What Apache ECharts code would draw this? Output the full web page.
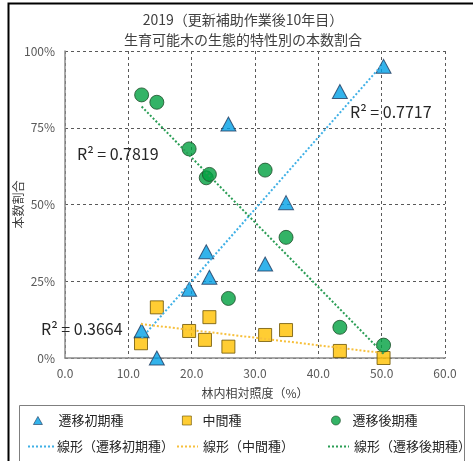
<!DOCTYPE html>
<html>
<head>
<meta charset="utf-8">
<script src="https://cdn.jsdelivr.net/npm/echarts@6/dist/echarts.min.js"></script>
<style>
  html, body { margin: 0; padding: 0; background: #fff; }
  #chart { width: 473px; height: 461px; }
</style>
</head>
<body>
<div id="chart"></div>
<script>
// values (x = 林内相対照度 %, y = 本数割合 %)
const earlyX = [12.1, 14.5, 19.6, 22.3, 22.8, 25.8, 31.6, 34.9, 43.4, 50.3]
const earlyY = [8.9, 0.0, 22.4, 34.6, 26.3, 76.2, 30.6, 50.6, 86.8, 95.0]
const midX = [12.0, 14.5, 19.6, 22.1, 22.8, 25.8, 31.6, 34.9, 43.4, 50.3]
const midY = [4.8, 16.5, 8.8, 5.9, 13.3, 3.7, 7.5, 9.1, 2.3, 0.0]
const lateX = [12.1, 14.5, 19.6, 22.3, 22.8, 25.8, 31.6, 34.9, 43.4, 50.3]
const lateY = [85.7, 83.3, 68.1, 58.7, 59.8, 19.4, 61.2, 39.3, 10.0, 4.2]
const seriesNames = ['遷移初期種', '中間種', '遷移後期種']
const trendNames = ['線形（遷移初期種）', '線形（中間種）', '線形（遷移後期種）']
const r2Labels = ['R² = 0.7717', 'R² = 0.3664', 'R² = 0.7819']
const xTicks = [0, 10, 20, 30, 40, 50, 60]
const yTicks = [0, 25, 50, 75, 100]

const font = '"Noto Sans CJK JP", "Noto Sans", sans-serif'

function pairs(xs, ys) {
  return xs.map((x, i) => [x, ys[i]])
}

// least squares trendline, like Excel's linear trendline
function trend(xs, ys) {
  const n = xs.length
  const mx = xs.reduce((a, b) => a + b, 0) / n
  const my = ys.reduce((a, b) => a + b, 0) / n
  let sxy = 0, sxx = 0
  for (let i = 0; i < n; i++) {
    sxy += (xs[i] - mx) * (ys[i] - my)
    sxx += (xs[i] - mx) * (xs[i] - mx)
  }
  const b = sxy / sxx
  const a = my - b * mx
  const x0 = Math.min(...xs), x1 = Math.max(...xs)
  return [[x0, a + b * x0], [x1, a + b * x1]]
}

const chart = echarts.init(document.getElementById('chart'))

const legendText = { fontFamily: font, fontSize: 13, color: '#262626' }
// hide the symbol drawn in the middle of the line icons
const noSymbol = { opacity: 0 }

const option = {
  animation: false,
  title: {
    text: '2019（更新補助作業後10年目）\n生育可能木の生態的特性別の本数割合',
    left: 238,
    top: 5,
    textAlign: 'center',
    textStyle: { fontFamily: font, fontSize: 14, fontWeight: 'normal', color: '#404040', lineHeight: 20 }
  },
  grid: { left: 65, right: 28, top: 51, bottom: 103 },
  xAxis: {
    type: 'value',
    min: xTicks[0],
    max: xTicks[xTicks.length - 1],
    interval: 10,
    name: '林内相対照度（%）',
    nameLocation: 'middle',
    nameGap: 29,
    nameMoveOverlap: false,
    nameTextStyle: { fontFamily: font, fontSize: 12, color: '#404040' },
    axisLine: { lineStyle: { color: '#8c8c8c', width: 1.5 } },
    axisTick: { show: false },
    axisLabel: { fontFamily: font, fontSize: 12, color: '#595959', margin: 9, formatter: v => v.toFixed(1) },
    splitLine: { lineStyle: { color: '#595959', type: [3, 3], width: 1 } }
  },
  yAxis: {
    type: 'value',
    min: yTicks[0],
    max: yTicks[yTicks.length - 1],
    interval: 25,
    name: '本数割合',
    nameLocation: 'middle',
    nameGap: 47,
    nameMoveOverlap: false,
    nameTextStyle: { fontFamily: font, fontSize: 12, color: '#404040', verticalAlign: 'middle' },
    axisLine: { show: true, lineStyle: { color: '#8c8c8c', width: 1.5 } },
    axisTick: { show: false },
    axisLabel: { fontFamily: font, fontSize: 12, color: '#595959', margin: 10, formatter: '{value}%' },
    splitLine: { lineStyle: { color: '#595959', type: [3, 3], width: 1 } }
  },
  legend: [
    { data: [seriesNames[0]], left: 28, top: 409, icon: 'triangle', itemWidth: 9, itemHeight: 8, itemStyle: { borderWidth: 0.8 }, textStyle: Object.assign({ padding: [0, 0, 0, 11] }, legendText) },
    { data: [seriesNames[1]], left: 177, top: 409, icon: 'rect', itemWidth: 9, itemHeight: 9, itemStyle: { borderWidth: 0.8 }, textStyle: Object.assign({ padding: [0, 0, 0, 6] }, legendText) },
    { data: [seriesNames[2]], left: 326, top: 409, icon: 'circle', itemWidth: 9, itemHeight: 9, itemStyle: { borderWidth: 0.8 }, textStyle: Object.assign({ padding: [0, 0, 0, 7] }, legendText) },
    { data: [trendNames[0]], left: 22, top: 435, itemWidth: 26, itemHeight: 12, itemStyle: noSymbol, textStyle: Object.assign({ padding: [0, 0, 0, -2] }, legendText) },
    { data: [trendNames[1]], left: 171, top: 435, itemWidth: 21, itemHeight: 12, itemStyle: noSymbol, textStyle: Object.assign({ padding: [0, 0, 0, 0] }, legendText) },
    { data: [trendNames[2]], left: 322, top: 435, itemWidth: 21, itemHeight: 12, itemStyle: noSymbol, textStyle: Object.assign({ padding: [0, 0, 0, 0] }, legendText) }
  ],
  graphic: [
    { type: 'rect', left: 6, top: 1, shape: { width: 480, height: 480 }, style: { fill: 'none', stroke: '#000', lineWidth: 2 }, z: 100 },
    { type: 'rect', left: 17, top: 403, shape: { width: 445, height: 56 }, style: { fill: 'none', stroke: '#7f7f7f', lineWidth: 1 } },
    { type: 'text', left: 350, top: 104, style: { text: r2Labels[0], font: '16px ' + font, fill: '#262626' }, z: 50 },
    { type: 'text', left: 41, top: 321, style: { text: r2Labels[1], font: '16px ' + font, fill: '#262626' }, z: 50 },
    { type: 'text', left: 77, top: 146, style: { text: r2Labels[2], font: '16px ' + font, fill: '#262626' }, z: 50 }
  ],
  series: [
    {
      name: seriesNames[0], type: 'scatter', symbol: 'triangle', symbolSize: [15, 14],
      itemStyle: { color: '#00a0e6', borderColor: '#1f3a5f', borderWidth: 1 },
      data: pairs(earlyX, earlyY), z: 3
    },
    {
      name: seriesNames[1], type: 'scatter', symbol: 'rect', symbolSize: 13,
      itemStyle: { color: '#ffc000', borderColor: '#6b5300', borderWidth: 1 },
      data: pairs(midX, midY), z: 2
    },
    {
      name: seriesNames[2], type: 'scatter', symbol: 'circle', symbolSize: 14,
      itemStyle: { color: '#00a040', borderColor: '#1e4d2b', borderWidth: 1 },
      data: pairs(lateX, lateY), z: 2
    },
    {
      name: trendNames[0], type: 'line', symbol: 'none', z: 4,
      lineStyle: { color: '#3fb0e6', type: [2, 2], width: 2 },
      itemStyle: { color: '#3fb0e6' },
      data: trend(earlyX, earlyY)
    },
    {
      name: trendNames[1], type: 'line', symbol: 'none', z: 4,
      lineStyle: { color: '#f7c03c', type: [2, 2], width: 2 },
      itemStyle: { color: '#f7c03c' },
      data: trend(midX, midY)
    },
    {
      name: trendNames[2], type: 'line', symbol: 'none', z: 4,
      lineStyle: { color: '#2a9d55', type: [2, 2], width: 2 },
      itemStyle: { color: '#2a9d55' },
      data: trend(lateX, lateY)
    }
  ]
}

chart.setOption(option)
</script>
</body>
</html>
